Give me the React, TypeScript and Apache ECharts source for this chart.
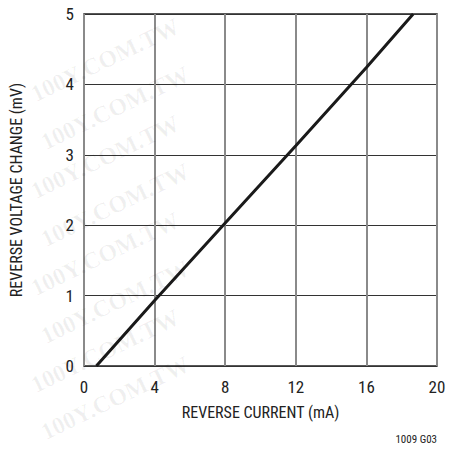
import React, { useEffect, useRef } from "react";
import * as echarts from "echarts";

const xTicks = [0, 4, 8, 12, 16, 20];
const yTicks = [0, 1, 2, 3, 4, 5];
const currentMA = [0.7, 4, 8, 12, 16, 18.65];
const voltageMV = [0, 0.93, 2.03, 3.13, 4.24, 5];
const watermarkRows = [60, 108, 157, 205, 254, 302, 351, 398];

export default function App() {
  const ref = useRef<HTMLDivElement>(null);
  useEffect(() => {
    if (!ref.current) return;
    const chart = echarts.init(ref.current, null, { renderer: "svg" });
    const font = "'Liberation Sans Narrow', 'Roboto Condensed', 'Liberation Sans', sans-serif";
    chart.setOption({
      animation: false,
      backgroundColor: "#fff",
      grid: { left: 84, top: 14, right: 22, bottom: 88, show: true, borderColor: "#222", borderWidth: 1.5 },
      xAxis: {
        type: "value",
        min: xTicks[0],
        max: xTicks[xTicks.length - 1],
        interval: 4,
        name: "REVERSE CURRENT (mA)",
        nameLocation: "middle",
        nameGap: 38,
        nameTextStyle: { fontFamily: font, fontSize: 16, color: "#222" },
        axisLine: { show: false },
        axisTick: { show: false },
        axisLabel: { fontFamily: font, fontSize: 17, color: "#222", margin: 12 },
        splitLine: { show: true, lineStyle: { color: "#8a8a8a", width: 2 } },
      },
      yAxis: {
        type: "value",
        min: yTicks[0],
        max: yTicks[yTicks.length - 1],
        interval: 1,
        name: "REVERSE VOLTAGE CHANGE (mV)",
        nameLocation: "middle",
        nameGap: 60,
        nameTextStyle: { fontFamily: font, fontSize: 16, color: "#222" },
        axisLine: { show: false },
        axisTick: { show: false },
        axisLabel: { fontFamily: font, fontSize: 17, color: "#222", margin: 10 },
        splitLine: { show: true, lineStyle: { color: "#333", width: 1 } },
      },
      series: [
        {
          type: "line",
          data: currentMA.map((x, i) => [x, voltageMV[i]]),
          showSymbol: false,
          lineStyle: { color: "#1a1a1a", width: 3 },
          z: 5,
        },
      ],
      graphic: [
        ...watermarkRows.map((y, i) => ({
          type: "text",
          x: 105 + (i % 2) * 10,
          y,
          rotation: 0.45,
          z: 100,
          style: {
            text: "100Y.COM.TW",
            fontFamily: "'Liberation Serif', serif",
            fontWeight: "bold",
            fontSize: 24,
            fill: "rgba(0,0,0,0.06)",
            textAlign: "center",
            textVerticalAlign: "middle",
          },
        })),
        {
          type: "text",
          right: 22,
          top: 434,
          style: { text: "1009 G03", fontFamily: font, fontSize: 11, fill: "#222" },
        },
      ],
    });
    return () => chart.dispose();
  }, []);
  return <div ref={ref} style={{ width: 459, height: 454, margin: -8 }} />;
}
